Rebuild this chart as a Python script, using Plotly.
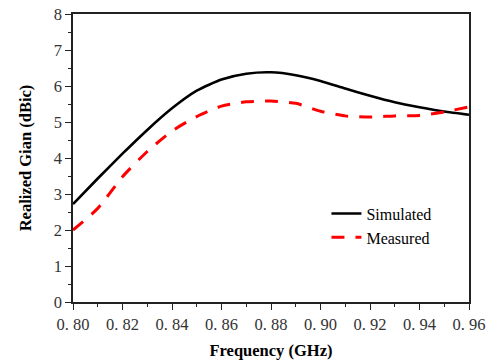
import plotly.graph_objects as go

freq = [0.80, 0.81, 0.82, 0.83, 0.84, 0.85, 0.86, 0.87, 0.88, 0.89, 0.90,
        0.91, 0.92, 0.93, 0.94, 0.95, 0.96]
simulated = [2.72, 3.43, 4.12, 4.78, 5.38, 5.87, 6.18, 6.34, 6.38, 6.30, 6.14,
             5.93, 5.73, 5.55, 5.41, 5.29, 5.20]
measured = [2.00, 2.60, 3.48, 4.18, 4.75, 5.15, 5.44, 5.56, 5.58, 5.52, 5.30,
            5.17, 5.14, 5.17, 5.18, 5.28, 5.42]
x_ticks = [0.80, 0.82, 0.84, 0.86, 0.88, 0.90, 0.92, 0.94, 0.96]
x_ticktext = ["0. 80", "0. 82", "0. 84", "0. 86", "0. 88", "0. 90", "0. 92", "0. 94", "0. 96"]
y_ticks = [0, 1, 2, 3, 4, 5, 6, 7, 8]

fig = go.Figure()
fig.add_trace(go.Scatter(x=freq, y=simulated, mode="lines", name="Simulated",
                         line=dict(color="black", width=2.6, shape="spline", smoothing=0.6)))
fig.add_trace(go.Scatter(x=freq, y=measured, mode="lines", name="Measured",
                         line=dict(color="#ff0000", width=3, dash="13px,11px",
                                   shape="spline", smoothing=0.6)))

tickfont = dict(family="Liberation Serif", size=16.5, color="#333")
titlefont = dict(family="Liberation Serif", size=16.5, color="black")

fig.update_layout(
    width=494, height=361,
    margin=dict(l=73, r=25, t=14, b=59),
    paper_bgcolor="white", plot_bgcolor="white",
    showlegend=True,
    legend=dict(x=0.64, y=0.366, xanchor="left", yanchor="top",
                bgcolor="rgba(0,0,0,0)", borderwidth=0,
                font=dict(family="Liberation Serif", size=16, color="black"),
                tracegroupgap=0),
    xaxis=dict(range=[0.80, 0.96], tickvals=x_ticks, ticktext=x_ticktext,
               automargin=False,
               showgrid=False, zeroline=False, showline=True, mirror=True,
               linecolor="#222", linewidth=1.5,
               ticks="outside", ticklen=6, tickwidth=1.3, tickcolor="#222",
               minor=dict(tickvals=[0.81, 0.83, 0.85, 0.87, 0.89, 0.91, 0.93, 0.95],
                          ticks="outside", ticklen=3, tickwidth=1.3, tickcolor="#222"),
               tickfont=tickfont,
               title=dict(text="<b>Frequency (GHz)</b>", font=titlefont, standoff=12)),
    yaxis=dict(range=[0, 8], tickvals=y_ticks,
               automargin=False,
               showgrid=False, zeroline=False, showline=True, mirror=True,
               linecolor="#222", linewidth=1.5,
               ticks="outside", ticklen=6, tickwidth=1.3, tickcolor="#222",
               minor=dict(dtick=0.5, ticks="outside", ticklen=3, tickwidth=1.3, tickcolor="#222"),
               tickfont=tickfont,
               title=dict(text="<b>Realized Gian (dBic)</b>", font=titlefont, standoff=18)),
)

fig.write_html("out.html", config={"displayModeBar": False},
               post_script="document.body.style.margin='0';")
